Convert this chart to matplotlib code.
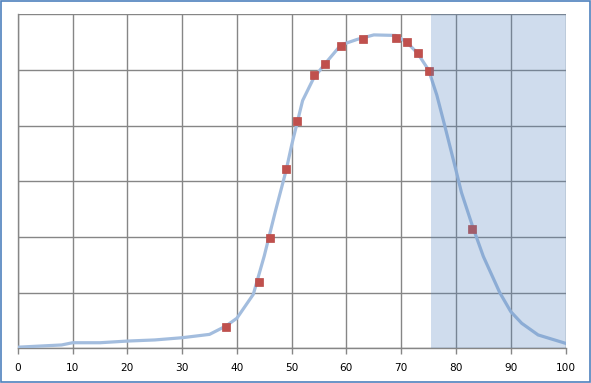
import matplotlib
matplotlib.use("Agg")
import matplotlib.pyplot as plt
from matplotlib.patches import Rectangle

# curve (line series)
line_x = [0, 8, 10, 15, 20, 25, 30, 35, 38, 40, 43, 45, 47, 49, 50, 52, 54, 56,
          59, 62, 65, 69, 71, 73, 75, 76.5, 78, 80, 81, 83, 85, 88, 90, 92, 95, 100]
line_y = [0.02, 0.06, 0.10, 0.10, 0.13, 0.15, 0.19, 0.25, 0.40, 0.54, 0.97, 1.66,
          2.45, 3.2, 3.65, 4.45, 4.85, 5.1, 5.45, 5.55, 5.63, 5.62, 5.5, 5.3, 5.0,
          4.55, 3.98, 3.2, 2.8, 2.2, 1.65, 1.0, 0.66, 0.45, 0.24, 0.09]

# measured points (markers)
pts_x = [38, 44, 46, 49, 51, 54, 56, 59, 63, 69, 71, 73, 75, 83]
pts_y = [0.38, 1.20, 1.98, 3.22, 4.08, 4.91, 5.11, 5.43, 5.56, 5.57, 5.50, 5.30, 4.98, 2.14]

shade_start = 75.4
shade_end = 100

x_ticks = list(range(0, 101, 10))
y_ticks = [0, 1, 2, 3, 4, 5, 6]

fig = plt.figure(figsize=(5.91, 3.83), dpi=100)
ax = fig.add_axes([17.8 / 591, 34.7 / 383, 547.7 / 591, 334 / 383])

grid_color = "#868686"
ax.set_xlim(0, 100)
ax.set_ylim(0, 6)
ax.set_xticks(x_ticks)
ax.set_yticks(y_ticks)
ax.set_yticklabels([])
ax.grid(True, color=grid_color, linewidth=1.0, zorder=1)
ax.tick_params(axis="x", length=4, width=1.0, color=grid_color, labelsize=7.6,
               labelcolor="#000000", pad=6.5)
ax.tick_params(axis="y", length=0)
for side in ["top", "right"]:
    ax.spines[side].set_visible(False)
for side in ["left", "bottom"]:
    ax.spines[side].set_color(grid_color)
    ax.spines[side].set_linewidth(1.0)

ax.plot(line_x, line_y, color="#A3BDDE", linewidth=2.3, zorder=3,
        solid_joinstyle="round")
ax.plot(pts_x, pts_y, linestyle="none", marker="s", markersize=5.8,
        color="#C0504D", markeredgecolor="#B94A47", markeredgewidth=0.5, zorder=4)

ax.axvspan(shade_start, shade_end, color="#4F81BD", alpha=0.27, linewidth=0, zorder=5)

# outer frame of the chart
fig.patches.append(Rectangle((0.001, 0.002), 0.997, 0.995, transform=fig.transFigure,
                             fill=False, edgecolor="#4F81BD", linewidth=1.2))

fig.savefig("out.png", dpi=100)
